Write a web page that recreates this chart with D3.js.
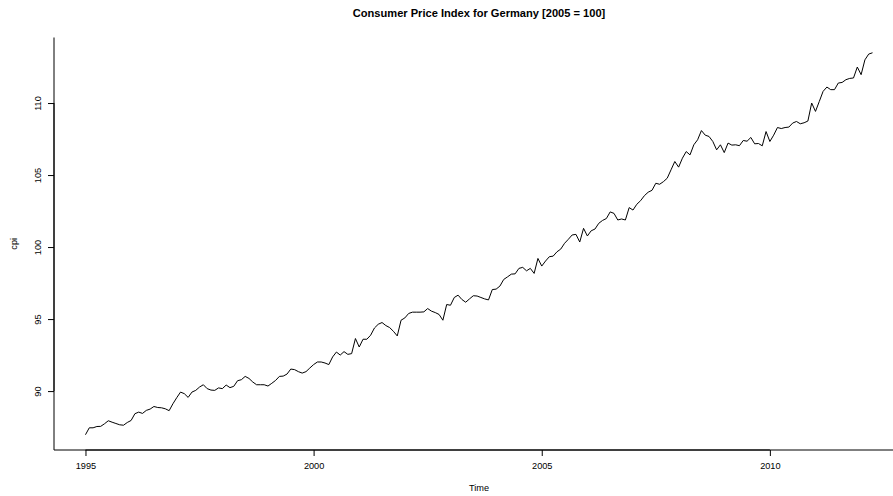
<!DOCTYPE html>
<html>
<head>
<meta charset="utf-8">
<script src="https://cdn.jsdelivr.net/npm/d3@7"></script>
<style>
  html, body { margin: 0; padding: 0; background: #fff; }
  svg { display: block; font-family: "Liberation Sans", Arial, Helvetica, sans-serif; }
</style>
</head>
<body>
<svg id="chart" width="893" height="496"></svg>
<script>
// Monthly consumer price index for Germany, base 2005 = 100, Jan 1995 to Apr 2012
const startYear = 1995;
const cpi1995 = [86.97, 87.45, 87.45, 87.54, 87.55, 87.73, 87.94, 87.84, 87.75, 87.66, 87.63, 87.82];
const cpi1996 = [87.96, 88.43, 88.54, 88.45, 88.66, 88.75, 88.93, 88.86, 88.84, 88.77, 88.64, 89.12];
const cpi1997 = [89.54, 89.93, 89.82, 89.56, 89.93, 90.05, 90.28, 90.44, 90.17, 90.07, 90.05, 90.22];
const cpi1998 = [90.17, 90.42, 90.24, 90.33, 90.72, 90.79, 91.02, 90.88, 90.63, 90.44, 90.44, 90.44];
const cpi1999 = [90.35, 90.54, 90.74, 91.02, 91.04, 91.18, 91.53, 91.49, 91.35, 91.25, 91.35, 91.60];
const cpi2000 = [91.84, 92.02, 92.02, 91.95, 91.84, 92.37, 92.71, 92.50, 92.74, 92.55, 92.60, 93.65];
const cpi2001 = [93.06, 93.60, 93.60, 93.88, 94.38, 94.64, 94.76, 94.55, 94.41, 94.15, 93.83, 94.92];
const cpi2002 = [95.08, 95.39, 95.48, 95.48, 95.48, 95.50, 95.73, 95.55, 95.45, 95.32, 94.92, 96.01];
const cpi2003 = [95.96, 96.50, 96.66, 96.36, 96.17, 96.40, 96.62, 96.60, 96.50, 96.40, 96.33, 97.05];
const cpi2004 = [97.08, 97.29, 97.75, 97.93, 98.12, 98.14, 98.52, 98.59, 98.35, 98.52, 98.17, 99.21];
const cpi2005 = [98.68, 99.03, 99.33, 99.37, 99.67, 99.86, 100.26, 100.54, 100.84, 100.88, 100.35, 101.30];
const cpi2006 = [100.77, 101.13, 101.25, 101.65, 101.85, 101.98, 102.44, 102.34, 101.88, 101.95, 101.88, 102.74];
const cpi2007 = [102.57, 102.97, 103.22, 103.57, 103.81, 103.94, 104.43, 104.36, 104.54, 104.78, 105.36, 105.94];
const cpi2008 = [105.55, 106.17, 106.63, 106.40, 107.10, 107.45, 108.09, 107.77, 107.68, 107.33, 106.75, 107.10];
const cpi2009 = [106.56, 107.22, 107.08, 107.10, 107.04, 107.40, 107.35, 107.61, 107.17, 107.19, 107.03, 108.02];
const cpi2010 = [107.33, 107.77, 108.30, 108.23, 108.30, 108.33, 108.61, 108.72, 108.56, 108.63, 108.75, 110.00];
const cpi2011 = [109.42, 110.11, 110.81, 111.11, 110.93, 110.93, 111.39, 111.43, 111.62, 111.71, 111.74, 112.50];
const cpi2012 = [111.97, 113.00, 113.40, 113.49];

const xTickValues = [1995, 2000, 2005, 2010];
const yTickValues = [90, 95, 100, 105, 110];
const titleText = "Consumer Price Index for Germany [2005 = 100]";
const xLabel = "Time";
const yLabel = "cpi";

const cpi = [].concat(cpi1995, cpi1996, cpi1997, cpi1998, cpi1999, cpi2000, cpi2001,
  cpi2002, cpi2003, cpi2004, cpi2005, cpi2006, cpi2007, cpi2008, cpi2009, cpi2010,
  cpi2011, cpi2012);
const series = cpi.map((v, i) => ({ t: startYear + i / 12, v }));

// plot region (right edge runs past the page width)
const plot = { left: 54, right: 904, top: 37.5, bottom: 450 };

// extend data ranges by 4% on each side
function padded(ext) {
  const d = (ext[1] - ext[0]) * 0.04;
  return [ext[0] - d, ext[1] + d];
}

const x = d3.scaleLinear()
  .domain(padded(d3.extent(series, d => d.t)))
  .range([plot.left, plot.right]);
const y = d3.scaleLinear()
  .domain(padded(d3.extent(series, d => d.v)))
  .range([plot.bottom, plot.top]);

const svg = d3.select("#chart");

// L-shaped frame
svg.append("path")
  .attr("d", `M${plot.left},${plot.top}V${plot.bottom}H${plot.right}`)
  .attr("fill", "none")
  .attr("stroke", "#000")
  .attr("stroke-width", 1);

// bottom axis
const gx = svg.append("g")
  .attr("transform", `translate(0,${plot.bottom})`)
  .call(d3.axisBottom(x).tickValues(xTickValues).tickSize(6).tickFormat(d3.format("d")));
gx.select(".domain").remove();
gx.append("line")
  .attr("x1", x(xTickValues[0])).attr("x2", x(xTickValues[xTickValues.length - 1]))
  .attr("stroke", "#000");
gx.selectAll(".tick line").attr("stroke", "#000");
gx.selectAll(".tick text")
  .attr("y", 16).attr("dy", "0.35em")
  .attr("fill", "#000")
  .style("font-size", "9.2px")
  .style("font-family", "Liberation Sans, Arial, sans-serif");

// left axis with labels parallel to the axis
const gy = svg.append("g")
  .attr("transform", `translate(${plot.left},0)`)
  .call(d3.axisLeft(y).tickValues(yTickValues).tickSize(6).tickFormat(d3.format("d")));
gy.select(".domain").remove();
gy.append("line")
  .attr("y1", y(yTickValues[0])).attr("y2", y(yTickValues[yTickValues.length - 1]))
  .attr("stroke", "#000");
gy.selectAll(".tick line").attr("stroke", "#000");
gy.selectAll(".tick text")
  .attr("transform", "rotate(-90)")
  .attr("x", 0).attr("y", -16).attr("dy", "0.35em")
  .attr("text-anchor", "middle")
  .attr("fill", "#000")
  .style("font-size", "9.2px")
  .style("font-family", "Liberation Sans, Arial, sans-serif");

// series line
const line = d3.line().x(d => x(d.t)).y(d => y(d.v));
svg.append("path")
  .datum(series)
  .attr("d", line)
  .attr("fill", "none")
  .attr("stroke", "#000")
  .attr("stroke-width", 1)
  .attr("stroke-linejoin", "round");

// title and axis titles
const cx = (plot.left + plot.right) / 2;
svg.append("text")
  .attr("x", cx).attr("y", 17)
  .attr("text-anchor", "middle")
  .style("font-size", "11.1px")
  .style("font-weight", "bold")
  .text(titleText);

svg.append("text")
  .attr("x", cx).attr("y", 488).attr("dy", "0.35em")
  .attr("text-anchor", "middle")
  .style("font-size", "9.2px")
  .text(xLabel);

svg.append("text")
  .attr("transform", `translate(14,${(plot.top + plot.bottom) / 2}) rotate(-90)`)
  .attr("dy", "0.35em")
  .attr("text-anchor", "middle")
  .style("font-size", "9.2px")
  .text(yLabel);
</script>
</body>
</html>
